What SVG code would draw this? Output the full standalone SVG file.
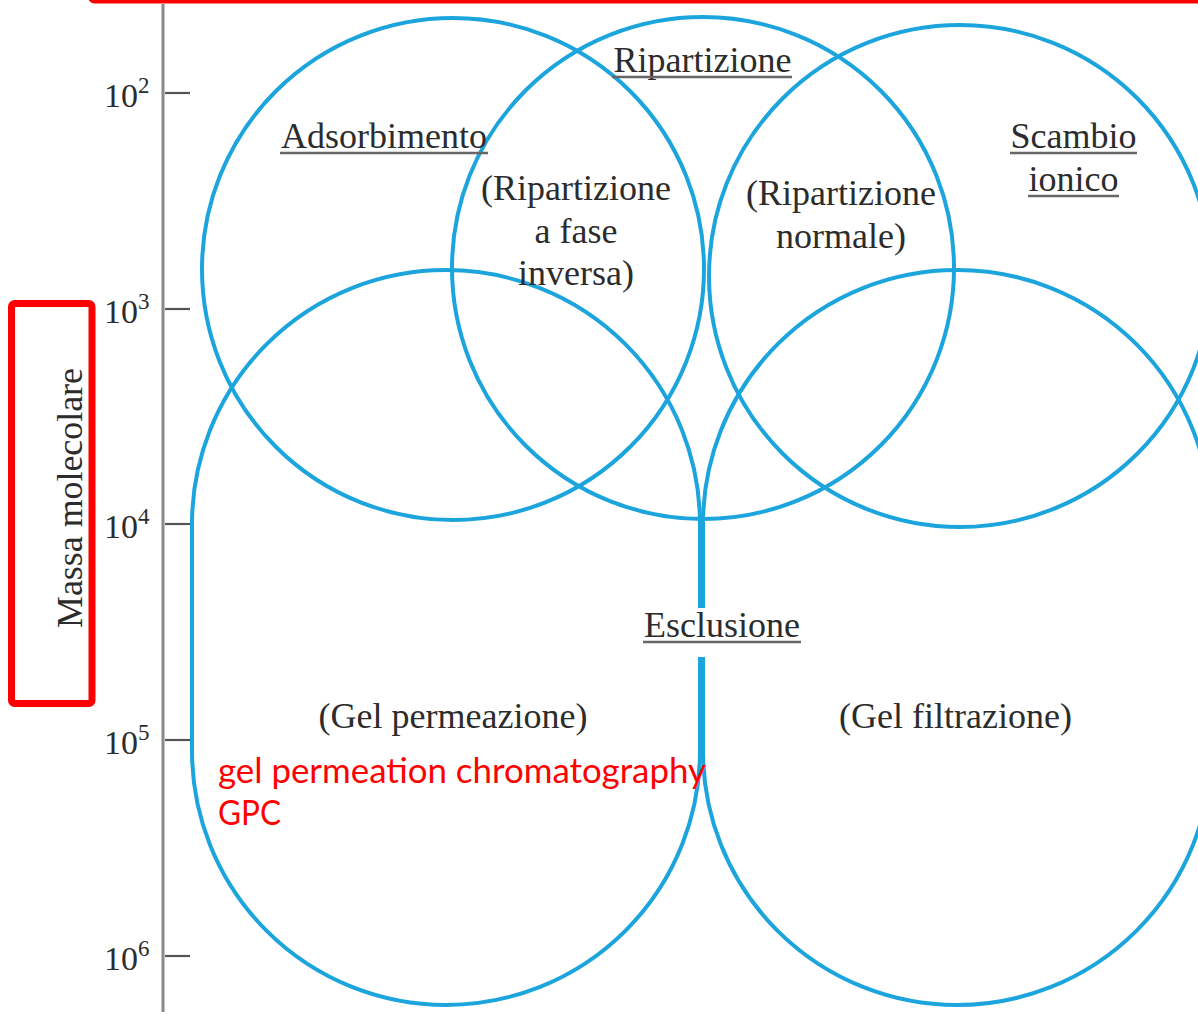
<svg xmlns="http://www.w3.org/2000/svg" width="1198" height="1014" viewBox="0 0 1198 1014">
  <style>
    .region { fill: none; stroke: #1ca5dd; stroke-width: 4; }
    .axis { stroke: #8a8a8a; stroke-width: 3; }
    .tick { stroke: #555; stroke-width: 2.2; }
    .lbl { font-family: "Liberation Serif", "Times New Roman", serif; font-size: 36px; fill: #2c2c2c; text-anchor: middle; }
    .num { font-family: "Liberation Serif", "Times New Roman", serif; font-size: 34px; fill: #2c2c2c; }
    .sup { font-size: 23px; }
    .uline { stroke: #666; stroke-width: 2.4; }
    .note { font-family: Lato, "Noto Sans", sans-serif; font-size: 35px; fill: #ff0000; }
    .frame { fill: none; stroke: #ff0000; stroke-width: 7; stroke-linejoin: round; }
  </style>

  <rect width="1198" height="1014" fill="#ffffff"/>

  <!-- molecular-mass axis -->
  <g id="axis">
    <line class="axis" x1="163" y1="4" x2="163" y2="1012"/>
    <line class="tick" x1="165" y1="93" x2="190" y2="93"/>
    <line class="tick" x1="165" y1="309" x2="190" y2="309"/>
    <line class="tick" x1="165" y1="524" x2="190" y2="524"/>
    <line class="tick" x1="165" y1="740" x2="190" y2="740"/>
    <line class="tick" x1="165" y1="956" x2="190" y2="956"/>
    <text class="num" x="104" y="107">10<tspan class="sup" dy="-14">2</tspan></text>
    <text class="num" x="104" y="323">10<tspan class="sup" dy="-14">3</tspan></text>
    <text class="num" x="104" y="538">10<tspan class="sup" dy="-14">4</tspan></text>
    <text class="num" x="104" y="754">10<tspan class="sup" dy="-14">5</tspan></text>
    <text class="num" x="104" y="970">10<tspan class="sup" dy="-14">6</tspan></text>
    <text class="lbl" transform="translate(82 498) rotate(-90)" x="0" y="0" textLength="260" lengthAdjust="spacingAndGlyphs">Massa molecolare</text>
  </g>

  <!-- separation-mode regions -->
  <g id="adsorbimento"><circle class="region" cx="453" cy="269" r="251"/></g>
  <g id="ripartizione"><circle class="region" cx="703" cy="268" r="251"/></g>
  <g id="scambio-ionico"><circle class="region" cx="960" cy="276" r="251"/></g>
  <g id="gel-permeazione"><path class="region" d="M192,524 A254,254 0 0 1 700,524 L700,751 A254,254 0 0 1 192,751 Z"/></g>
  <g id="gel-filtrazione"><path class="region" d="M703,524 A254,254 0 0 1 1211,524 L1211,751 A254,254 0 0 1 703,751 Z"/></g>

  <!-- no connectors in this chart -->
  <g id="connectors"/>

  <!-- labels -->
  <g id="labels">
    <text class="lbl" x="702.5" y="72">Ripartizione</text>
    <line class="uline" x1="612" y1="77" x2="792" y2="77"/>

    <text class="lbl" x="384" y="148">Adsorbimento</text>
    <line class="uline" x1="280" y1="153" x2="488" y2="153"/>

    <text class="lbl" x="576" y="200">(Ripartizione</text>
    <text class="lbl" x="576" y="243">a fase</text>
    <text class="lbl" x="576" y="285">inversa)</text>

    <text class="lbl" x="841" y="205">(Ripartizione</text>
    <text class="lbl" x="841" y="248">normale)</text>

    <text class="lbl" x="1073.5" y="148">Scambio</text>
    <line class="uline" x1="1010" y1="153" x2="1137" y2="153"/>
    <text class="lbl" x="1073.5" y="191">ionico</text>
    <line class="uline" x1="1028" y1="196" x2="1119" y2="196"/>

    <rect x="638" y="608" width="168" height="49" fill="#ffffff"/>
    <text class="lbl" x="722" y="637">Esclusione</text>
    <line class="uline" x1="643" y1="642" x2="801" y2="642"/>

    <text class="lbl" x="453" y="728">(Gel permeazione)</text>
    <text class="lbl" x="955.5" y="728">(Gel filtrazione)</text>
  </g>

  <!-- annotations -->
  <g id="annotations">
    <rect class="frame" x="91.5" y="-100" width="1200" height="100" rx="3"/>
    <rect class="frame" x="11.5" y="303.5" width="80.5" height="400" rx="3"/>
    <text class="note" x="218" y="783" textLength="488" lengthAdjust="spacingAndGlyphs">gel permeation chromatography</text>
    <text class="note" x="218" y="825" textLength="63" lengthAdjust="spacingAndGlyphs">GPC</text>
  </g>
</svg>
